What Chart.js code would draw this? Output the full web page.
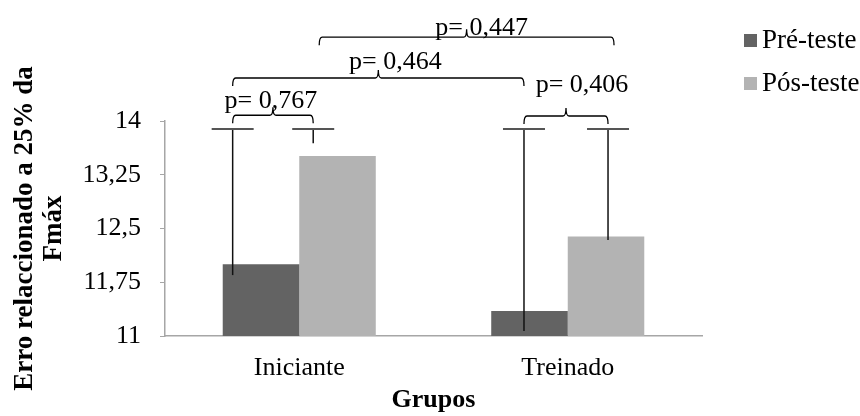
<!DOCTYPE html>
<html>
<head>
<meta charset="utf-8">
<script src="https://cdn.jsdelivr.net/npm/chart.js@4"></script>
<style>
  html, body { margin: 0; padding: 0; background: #fff; }
  #wrap { width: 860px; height: 416px; }
</style>
</head>
<body>
<div id="wrap"><canvas id="myChart"></canvas></div>
<script>
// Chart data
const categories = ["Iniciante", "Treinado"];
const seriesNames = ["Pré-teste", "Pós-teste"];
const preValues = [12.0, 11.35];
const posValues = [13.51, 12.39];
// error bars: low / high end (values), x position in category units
const preErrLow = [11.85, 11.07];
const preErrHigh = [13.89, 13.89];
const posErrLow = [13.69, 12.34];
const posErrHigh = [13.89, 13.89];
const preErrX = [-0.248, 0.837];
const posErrX = [0.052, 1.15];
const yTicks = [11, 11.75, 12.5, 13.25, 14];
// comparison brackets
const pLabels = ["p= 0,767", "p= 0,464", "p= 0,447", "p= 0,406"];
const pLevels = [14.08, 14.6, 15.17, 14.07];

const preColor = "#636363";
const posColor = "#b3b3b3";
const axisColor = "#a6a6a6";
const serif = "'Liberation Serif', 'Times New Roman', serif";

// endpoints of each bracket: [series, index] pairs
const bracketPairs = [
  [["pre", 0], ["pos", 0]],
  [["pre", 0], ["pre", 1]],
  [["pos", 0], ["pos", 1]],
  [["pre", 1], ["pos", 1]],
];
// text placement relative to bracket peak (px)
const textShift = [
  { dx: -2, dy: -7 },
  { dx: 17, dy: -9 },
  { dx: 15, dy: -2 },
  { dx: 16, dy: -24 },
];
const bracketShift = [0, 0, 6, 0];

const errX = { pre: preErrX, pos: posErrX };

const extrasPlugin = {
  id: "extras",
  afterDraw(chart) {
    const { ctx, scales } = chart;
    const xs = scales.x;
    const ys = scales.y;
    ctx.save();

    // error bars
    const drawErr = (xv, lo, hi) => {
      const x = xs.getPixelForValue(xv);
      ctx.strokeStyle = "#111";
      ctx.lineWidth = 1.5;
      ctx.beginPath();
      ctx.moveTo(x, ys.getPixelForValue(lo));
      ctx.lineTo(x, ys.getPixelForValue(hi));
      ctx.stroke();
      ctx.strokeStyle = "#555";
      ctx.lineWidth = 2;
      const yc = ys.getPixelForValue(hi);
      ctx.beginPath();
      ctx.moveTo(x - 21, yc);
      ctx.lineTo(x + 21, yc);
      ctx.stroke();
    };
    categories.forEach((c, i) => {
      drawErr(preErrX[i], preErrLow[i], preErrHigh[i]);
      drawErr(posErrX[i], posErrLow[i], posErrHigh[i]);
    });

    // brackets
    ctx.strokeStyle = "#000";
    ctx.lineWidth = 1.3;
    ctx.fillStyle = "#000";
    ctx.font = "26px " + serif;
    ctx.textAlign = "center";
    ctx.textBaseline = "alphabetic";
    bracketPairs.forEach((pair, k) => {
      const x1 = xs.getPixelForValue(errX[pair[0][0]][pair[0][1]]) + bracketShift[k];
      const x2 = xs.getPixelForValue(errX[pair[1][0]][pair[1][1]]) + bracketShift[k];
      const y = ys.getPixelForValue(pLevels[k]);
      const mid = (x1 + x2) / 2;
      const d = 8, r = 3;
      ctx.beginPath();
      ctx.moveTo(x1, y + d);
      ctx.quadraticCurveTo(x1, y, x1 + r, y);
      ctx.lineTo(mid - r, y);
      ctx.quadraticCurveTo(mid, y, mid, y - d);
      ctx.quadraticCurveTo(mid, y, mid + r, y);
      ctx.lineTo(x2 - r, y);
      ctx.quadraticCurveTo(x2, y, x2, y + d);
      ctx.stroke();
      ctx.fillText(pLabels[k], mid + textShift[k].dx, y + textShift[k].dy);
    });

    // legend
    ctx.textAlign = "left";
    ctx.textBaseline = "middle";
    ctx.font = "27px " + serif;
    [preColor, posColor].forEach((col, i) => {
      const cy = 40 + i * 43;
      ctx.fillStyle = col;
      ctx.fillRect(744, cy - 6, 13, 13);
      ctx.fillStyle = "#000";
      ctx.fillText(seriesNames[i], 762, cy + 1);
    });
    ctx.restore();
  },
};

new Chart(document.getElementById("myChart"), {
  type: "bar",
  data: {
    labels: categories,
    datasets: [
      {
        label: seriesNames[0],
        data: preValues,
        backgroundColor: preColor,
        categoryPercentage: 0.57,
        barPercentage: 1.0,
      },
      {
        label: seriesNames[1],
        data: posValues,
        backgroundColor: posColor,
        categoryPercentage: 0.57,
        barPercentage: 1.0,
      },
    ],
  },
  options: {
    responsive: true,
    maintainAspectRatio: false,
    animation: false,
    layout: { padding: { top: 121, right: 158, left: 0, bottom: 0 } },
    plugins: {
      legend: { display: false },
      tooltip: { enabled: false },
    },
    scales: {
      x: {
        afterFit: (s) => { s.height = 80; },
        grid: { drawOnChartArea: false, drawTicks: false, color: axisColor },
        border: { color: axisColor, width: 1.5 },
        ticks: {
          color: "#000",
          padding: 17,
          font: { family: serif, size: 26 },
        },
        title: {
          display: true,
          text: "Grupos",
          color: "#000",
          padding: { top: 0, bottom: 0 },
          font: { family: serif, size: 26, weight: "bold" },
        },
      },
      y: {
        min: 11,
        max: 14,
        afterFit: (s) => { s.width = 165; },
        afterBuildTicks: (s) => { s.ticks = yTicks.map((v) => ({ value: v })); },
        grid: { drawOnChartArea: false, tickLength: 5, color: axisColor },
        border: { color: axisColor, width: 1.5 },
        ticks: {
          color: "#000",
          padding: 19,
          font: { family: serif, size: 26 },
          callback: (v) => String(v).replace(".", ","),
        },
        title: {
          display: true,
          text: ["Erro relaccionado a 25% da", "Fmáx"],
          color: "#000",
          padding: { top: 10, bottom: 0 },
          font: { family: serif, size: 27, weight: "bold", lineHeight: 1.08 },
        },
      },
    },
  },
  plugins: [extrasPlugin],
});
</script>
</body>
</html>
